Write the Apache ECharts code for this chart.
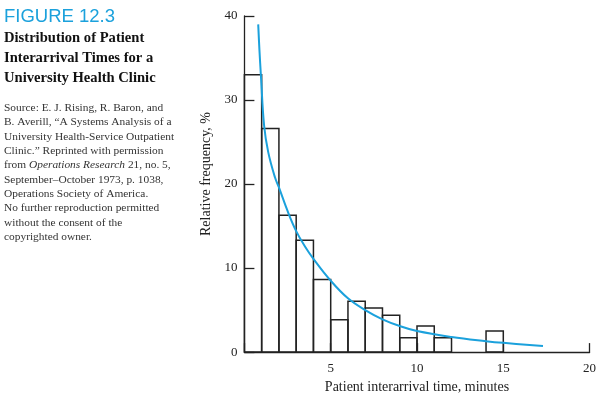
<!DOCTYPE html>
<html>
<head>
<meta charset="utf-8">
<script src="https://cdn.jsdelivr.net/npm/echarts@6/dist/echarts.min.js"></script>
<style>
  html, body { margin: 0; padding: 0; background: #fff; }
  #chart { width: 601px; height: 399px; }
</style>
</head>
<body>
<div id="chart"></div>
<script>
  // histogram bins (minutes) and relative frequency (%)
  var binStart = [0, 1, 2, 3, 4, 5, 6, 7, 8, 9, 10, 11, 12, 13, 14];
  var binFreq = [33.0, 26.6, 16.3, 13.3, 8.65, 3.85, 6.05, 5.25, 4.4, 1.7, 3.1, 1.7, 0, 0, 2.5];

  // fitted curve
  var curveX = [0.8, 0.87, 0.96, 1.14, 1.38, 1.77, 2.0, 2.5, 3.0, 3.5, 4.0, 5.0, 6.0, 7.0, 8.0, 9.0, 10.0, 12.0, 14.0, 15.0, 17.3];
  var curveY = [39.0, 36.0, 32.8, 27.0, 23.8, 20.8, 19.6, 16.8, 14.4, 12.6, 11.1, 8.5, 6.4, 5.0, 3.9, 3.1, 2.5, 1.8, 1.3, 1.1, 0.74];

  var titleLines = ['Distribution of Patient', 'Interarrival Times for a', 'University Health Clinic'];
  var sourceLines = [
    'Source: E. J. Rising, R. Baron, and',
    'B. Averill, \u201cA Systems Analysis of a',
    'University Health-Service Outpatient',
    'Clinic.\u201d Reprinted with permission',
    'from {i|Operations Research} 21, no. 5,',
    'September\u2013October 1973, p. 1038,',
    'Operations Society of America.',
    'No further reproduction permitted',
    'without the consent of the',
    'copyrighted owner.'
  ];

  var serif = '"Liberation Serif", "DejaVu Serif", serif';
  var ink = '#222';
  var blue = '#1ba1dc';

  var barData = [];
  for (var i = 0; i < binStart.length; i++) {
    if (binFreq[i] > 0) barData.push([binStart[i], binStart[i] + 1, binFreq[i]]);
  }
  var lineData = [];
  for (var j = 0; j < curveX.length; j++) lineData.push([curveX[j], curveY[j]]);

  var chart = echarts.init(document.getElementById('chart'), null, {renderer: 'canvas'});
  chart.setOption({
    animation: false,
    grid: {left: 244.4, right: 11.4, top: 16, bottom: 40.7},
    xAxis: {
      type: 'value', min: 0, max: 20, interval: 5,
      splitLine: {show: false},
      axisLine: {lineStyle: {color: ink, width: 1.3}},
      axisTick: {inside: true, length: 9, lineStyle: {color: ink, width: 1.3}},
      axisLabel: {
        color: ink, fontFamily: serif, fontSize: 13, margin: 10,
        formatter: function (v) { return v === 0 ? '' : String(v); }
      },
      name: 'Patient interarrival time, minutes',
      nameLocation: 'middle', nameGap: 27,
      nameTextStyle: {color: ink, fontFamily: serif, fontSize: 14}
    },
    yAxis: {
      type: 'value', min: 0, max: 40, interval: 10,
      splitLine: {show: false},
      axisLine: {show: true, lineStyle: {color: ink, width: 1.3}},
      axisTick: {show: true, inside: true, length: 10, lineStyle: {color: ink, width: 1.3}},
      axisLabel: {color: ink, fontFamily: serif, fontSize: 13, margin: 7},
      name: 'Relative frequency, %',
      nameLocation: 'middle', nameGap: 31,
      nameTextStyle: {color: ink, fontFamily: serif, fontSize: 14, padding: [0, 0, 0, 20]}
    },
    series: [
      {
        type: 'custom',
        data: barData,
        encode: {x: [0, 1], y: 2},
        renderItem: function (params, api) {
          var p0 = api.coord([api.value(0), api.value(2)]);
          var p1 = api.coord([api.value(1), 0]);
          return {
            type: 'rect',
            shape: {x: p0[0], y: p0[1], width: p1[0] - p0[0], height: p1[1] - p0[1]},
            style: {fill: 'rgba(255,255,255,0)', stroke: ink, lineWidth: 1.5}
          };
        },
        z: 2
      },
      {
        type: 'line',
        data: lineData,
        smooth: 0.4,
        showSymbol: false,
        lineStyle: {color: blue, width: 2},
        z: 3
      }
    ],
    graphic: [
      {
        type: 'text', left: 4, top: 7,
        style: {text: 'FIGURE 12.3', fill: blue, font: '18.5px "Liberation Sans", Arial, sans-serif'}
      },
      {
        type: 'text', left: 4, top: 28,
        style: {text: titleLines.join('\n'), fill: '#111', font: 'bold 14.6px ' + serif, lineHeight: 20}
      },
      {
        type: 'text', left: 4, top: 101,
        style: {
          text: sourceLines.join('\n'), fill: '#333', font: '11.4px ' + serif, lineHeight: 14.3,
          rich: {i: {fontStyle: 'italic', fontFamily: serif, fontSize: 11.4, fill: '#333', lineHeight: 14.3}}
        }
      }
    ]
  });
</script>
</body>
</html>
